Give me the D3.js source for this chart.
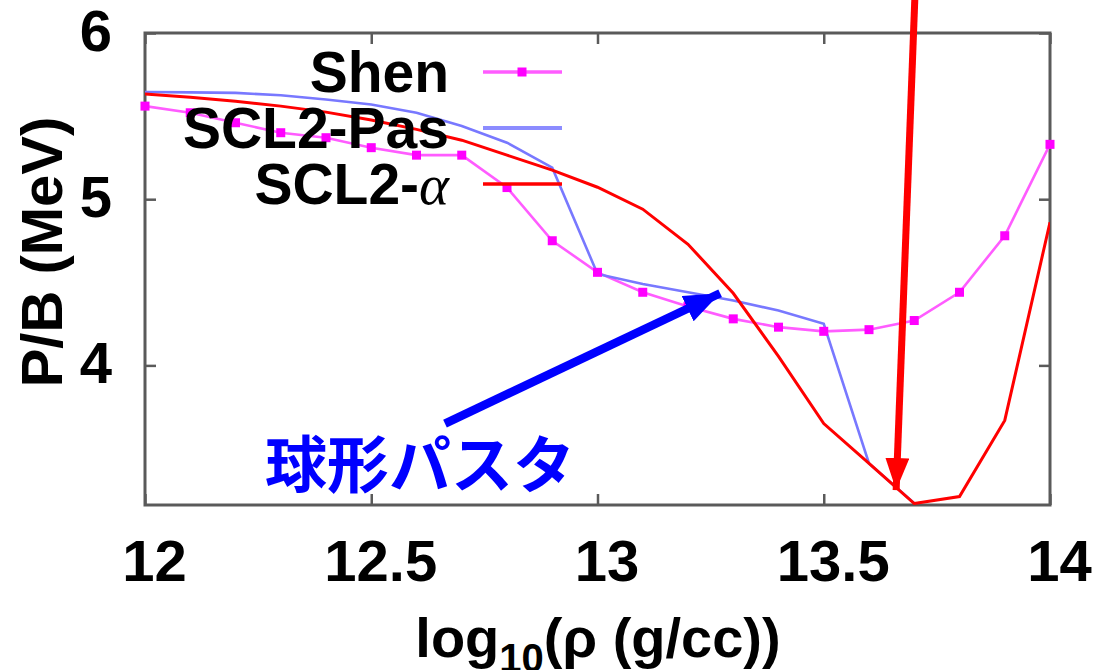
<!DOCTYPE html>
<html>
<head>
<meta charset="utf-8">
<script src="https://cdn.jsdelivr.net/npm/d3@7"></script>
<style>
  html, body { margin: 0; padding: 0; background: #fff; }
  svg { display: block; }
  text { font-family: "Liberation Sans", Arial, sans-serif; font-weight: bold; }
</style>
</head>
<body>
<svg id="chart" width="1101" height="670"></svg>
<script>
// log10 density grid (g/cc)
const logRho = [12.0, 12.1, 12.2, 12.3, 12.4, 12.5, 12.6, 12.7, 12.8, 12.9, 13.0,
                13.1, 13.2, 13.3, 13.4, 13.5, 13.6, 13.7, 13.8, 13.9, 14.0];

// Pressure / baryon density (MeV)
const shen = [5.56, 5.52, 5.46, 5.40, 5.37, 5.31, 5.265, 5.265, 5.07, 4.75, 4.56,
              4.44, 4.355, 4.28, 4.23, 4.205, 4.215, 4.27, 4.44, 4.78, 5.33];
const scl2Pas = [5.645, 5.643, 5.64, 5.625, 5.60, 5.57, 5.52, 5.44, 5.34, 5.19, 4.55,
                 4.49, 4.44, 4.39, 4.33, 4.25, 3.41, 3.17];
const scl2Alpha = [5.633, 5.614, 5.59, 5.56, 5.524, 5.476, 5.42, 5.355, 5.265, 5.175, 5.072,
                   4.94, 4.729, 4.434, 4.054, 3.65, 3.41, 3.169, 3.211, 3.669, 4.861];

const xTicks = [12, 12.5, 13, 13.5, 14];
const yTicks = [4, 5, 6];
const seriesNames = ["Shen", "SCL2-Pas", "SCL2-"];

const svg = d3.select("#chart");
const margin = { left: 145, right: 51, top: 33, bottom: 165 };
const W = 1101, H = 670;

const x = d3.scaleLinear().domain([12, 14]).range([margin.left, W - margin.right]);
const y = d3.scaleLinear().domain([3.16, 6]).range([H - margin.bottom, margin.top]);

const frameColor = "#5a5a5a";

// axes with inward ticks
const gx = svg.append("g")
  .attr("transform", `translate(0,${y.range()[0]})`)
  .call(d3.axisBottom(x).tickValues(xTicks).tickSize(-11).tickPadding(35)
        .tickFormat(d3.format("")));
gx.select(".domain").remove();
gx.selectAll(".tick line").attr("stroke", frameColor).attr("stroke-width", 2.5);
gx.selectAll(".tick text").attr("font-size", 58).attr("dx", 9)
  .style("font-family", "'Liberation Sans', Arial, sans-serif").style("font-weight", "bold").style("fill", "#000");

const gxTop = svg.append("g")
  .attr("transform", `translate(0,${y.range()[1]})`)
  .call(d3.axisTop(x).tickValues(xTicks).tickSize(-11).tickFormat(""));
gxTop.select(".domain").remove();
gxTop.selectAll(".tick line").attr("stroke", frameColor).attr("stroke-width", 2.5);

const gy = svg.append("g")
  .attr("transform", `translate(${x.range()[0]},0)`)
  .call(d3.axisLeft(y).tickValues(yTicks).tickSize(-11).tickPadding(33)
        .tickFormat(d3.format("d")));
gy.select(".domain").remove();
gy.selectAll(".tick line").attr("stroke", frameColor).attr("stroke-width", 2.5);
gy.selectAll(".tick text").attr("font-size", 58).attr("dy", "0.3em")
  .style("font-family", "'Liberation Sans', Arial, sans-serif").style("font-weight", "bold").style("fill", "#000");

const gyRight = svg.append("g")
  .attr("transform", `translate(${x.range()[1]},0)`)
  .call(d3.axisRight(y).tickValues(yTicks).tickSize(-11).tickFormat(""));
gyRight.select(".domain").remove();
gyRight.selectAll(".tick line").attr("stroke", frameColor).attr("stroke-width", 2.5);

// plot frame
svg.append("rect")
  .attr("x", x.range()[0]).attr("y", y.range()[1])
  .attr("width", x.range()[1] - x.range()[0])
  .attr("height", y.range()[0] - y.range()[1])
  .attr("fill", "none").attr("stroke", frameColor).attr("stroke-width", 3);

// clip for data curves
svg.append("clipPath").attr("id", "plotClip")
  .append("rect")
  .attr("x", x.range()[0]).attr("y", y.range()[1] - 2)
  .attr("width", x.range()[1] - x.range()[0])
  .attr("height", y.range()[0] - y.range()[1] + 2);

const line = d3.line().x(d => x(d[0])).y(d => y(d[1]));
const pairs = vals => vals.map((v, i) => [logRho[i], v]);

const plot = svg.append("g").attr("clip-path", "url(#plotClip)");

// Shen: line with square points
plot.append("path").datum(pairs(shen))
  .attr("d", line).attr("fill", "none")
  .attr("stroke", "#ff5cff").attr("stroke-width", 2.6);
svg.append("g").selectAll("rect").data(pairs(shen)).join("rect")
  .attr("x", d => x(d[0]) - 4.5).attr("y", d => y(d[1]) - 4.5)
  .attr("width", 9).attr("height", 9).attr("fill", "#ff00ff");

// SCL2-Pas
plot.append("path").datum(pairs(scl2Pas))
  .attr("d", line).attr("fill", "none")
  .attr("stroke", "#7878ff").attr("stroke-width", 2.6);

// SCL2-alpha
plot.append("path").datum(pairs(scl2Alpha))
  .attr("d", line).attr("fill", "none")
  .attr("stroke", "#ff0000").attr("stroke-width", 3);

// legend
const legend = svg.append("g");
const legY = [72, 128, 184];
const legColors = ["#ff5cff", "#8c8cff", "#ff0000"];
seriesNames.forEach((name, i) => {
  const t = legend.append("text")
    .attr("x", 449).attr("y", legY[i] + 20)
    .attr("text-anchor", "end").attr("font-size", 57).style("fill", "#000");
  t.append("tspan").text(name);
  if (i === 2) {
    t.append("tspan").text("α")
      .style("font-family", "'Liberation Serif', 'DejaVu Serif', serif")
      .style("font-weight", "normal").style("font-style", "italic");
  }
  legend.append("line")
    .attr("x1", 483).attr("x2", 562).attr("y1", legY[i]).attr("y2", legY[i])
    .attr("stroke", legColors[i]).attr("stroke-width", i === 1 ? 4 : 3.5);
});
legend.append("rect").attr("x", 522 - 4.5).attr("y", legY[0] - 4.5)
  .attr("width", 9).attr("height", 9).attr("fill", "#ff00ff");

// axis titles
const xt = svg.append("text")
  .attr("x", 598).attr("y", 657).attr("text-anchor", "middle")
  .attr("font-size", 56).style("fill", "#000");
xt.append("tspan").text("log");
xt.append("tspan").text("10").attr("font-size", 40).attr("dy", 15);
xt.append("tspan").text("(ρ (g/cc))").attr("dy", -15);

svg.append("text")
  .attr("transform", "translate(62,252) rotate(-90)")
  .attr("text-anchor", "middle").attr("font-size", 58).style("fill", "#000")
  .text("P/B (MeV)");

// annotation arrows
const defs = svg.append("defs");
function arrowHead(id, color, len, wid) {
  defs.append("marker").attr("id", id)
    .attr("viewBox", `0 0 ${len} ${wid}`)
    .attr("refX", len).attr("refY", wid / 2)
    .attr("markerWidth", len).attr("markerHeight", wid)
    .attr("markerUnits", "userSpaceOnUse")
    .attr("orient", "auto")
    .append("path").attr("d", `M0,0 L${len},${wid / 2} L0,${wid} Z`).attr("fill", color);
}
arrowHead("headBlue", "#0000ff", 36, 28);
arrowHead("headRed", "#ff0000", 32, 24);

svg.append("line")
  .attr("x1", x(12.663)).attr("y1", y(3.65))
  .attr("x2", x(13.271)).attr("y2", y(4.434))
  .attr("stroke", "#0000ff").attr("stroke-width", 8.5)
  .attr("marker-end", "url(#headBlue)");

svg.append("line")
  .attr("x1", x(13.702)).attr("y1", -10)
  .attr("x2", x(13.66)).attr("y2", y(3.25))
  .attr("stroke", "#ff0000").attr("stroke-width", 7)
  .attr("marker-end", "url(#headRed)");

svg.append("text")
  .attr("x", 265).attr("y", 488)
  .attr("font-size", 62)
  .style("font-family", "'Noto Sans CJK JP', sans-serif")
  .style("font-weight", "bold")
  .style("fill", "#0000ff")
  .text("球形パスタ");
</script>
</body>
</html>
